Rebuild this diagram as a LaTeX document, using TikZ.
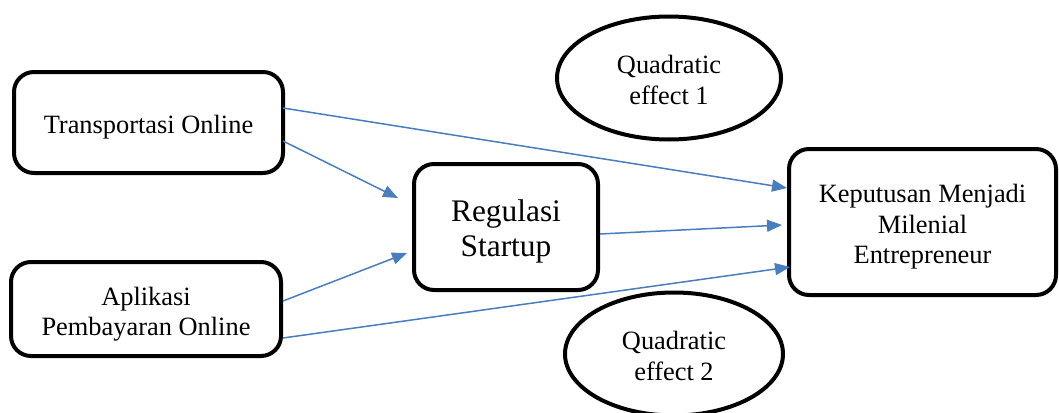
\documentclass[tikz,border=0pt]{standalone}
\usepackage{fontspec}
\setmainfont{Liberation Serif}
\usetikzlibrary{shapes.geometric,arrows.meta}
\definecolor{arrblue}{RGB}{72,126,190}
\tikzset{
  box/.style={draw=black, line width=4pt, rounded corners=20pt, rectangle, inner sep=0pt, outer sep=0pt},
  oval/.style={draw=black, line width=4pt, ellipse, inner sep=0pt, outer sep=0pt},
  txt/.style={inner sep=0pt, align=center, font=\fontsize{26.4}{30.5}\selectfont},
  bigtxt/.style={inner sep=0pt, align=center, font=\fontsize{31.4}{35}\selectfont},
  arr/.style={draw=arrblue, line width=1.5pt, -{Triangle[length=15pt,width=12pt]}}
}
\begin{document}
\begin{tikzpicture}[x=1pt,y=-1pt]
\useasboundingbox (0,0) rectangle (1059,412);
\node[box, minimum width=269pt, minimum height=101pt] (t) at (148.5,122.5) {};
\node[box, minimum width=270pt, minimum height=94pt] (a) at (146,309) {};
\node[box, minimum width=184pt, minimum height=126pt] (r) at (506,227) {};
\node[box, minimum width=267pt, minimum height=146pt] (k) at (922.5,222) {};
\node[oval, minimum width=224pt, minimum height=123pt] (q1) at (669,78) {};
\node[oval, minimum width=218pt, minimum height=123pt] (q2) at (674,354) {};
\node[txt] (tt) at ([yshift=-5pt]t.center) {Transportasi Online};
\node[txt] (at) at ([yshift=-5pt]a.center) {Aplikasi\\Pembayaran Online};
\node[bigtxt] (rt) at ([yshift=-4pt]r.center) {Regulasi\\Startup};
\node[txt] (kt) at ([yshift=-5pt]k.center) {Keputusan Menjadi\\Milenial\\Entrepreneur};
\node[txt] (q1t) at ([yshift=-2pt]q1.center) {Quadratic\\effect 1};
\node[txt] (q2t) at ([yshift=-2pt]q2.center) {Quadratic\\effect 2};
\coordinate (e1) at (787,188);
\coordinate (e2) at (398,198);
\coordinate (e3) at (407,253);
\coordinate (e4) at (790,267);
\coordinate (e5) at (782,225);
\draw[arr] ([yshift=14.5pt]t.east) -- (e1);
\draw[arr] ([yshift=-18.5pt]t.east) -- (e2);
\draw[arr] ([xshift=2pt,yshift=8pt]a.east) -- (e3);
\draw[arr] ([xshift=2pt,yshift=-29pt]a.east) -- (e4);
\draw[arr] ([xshift=2pt,yshift=-7pt]r.east) -- (e5);
\end{tikzpicture}
\end{document}
